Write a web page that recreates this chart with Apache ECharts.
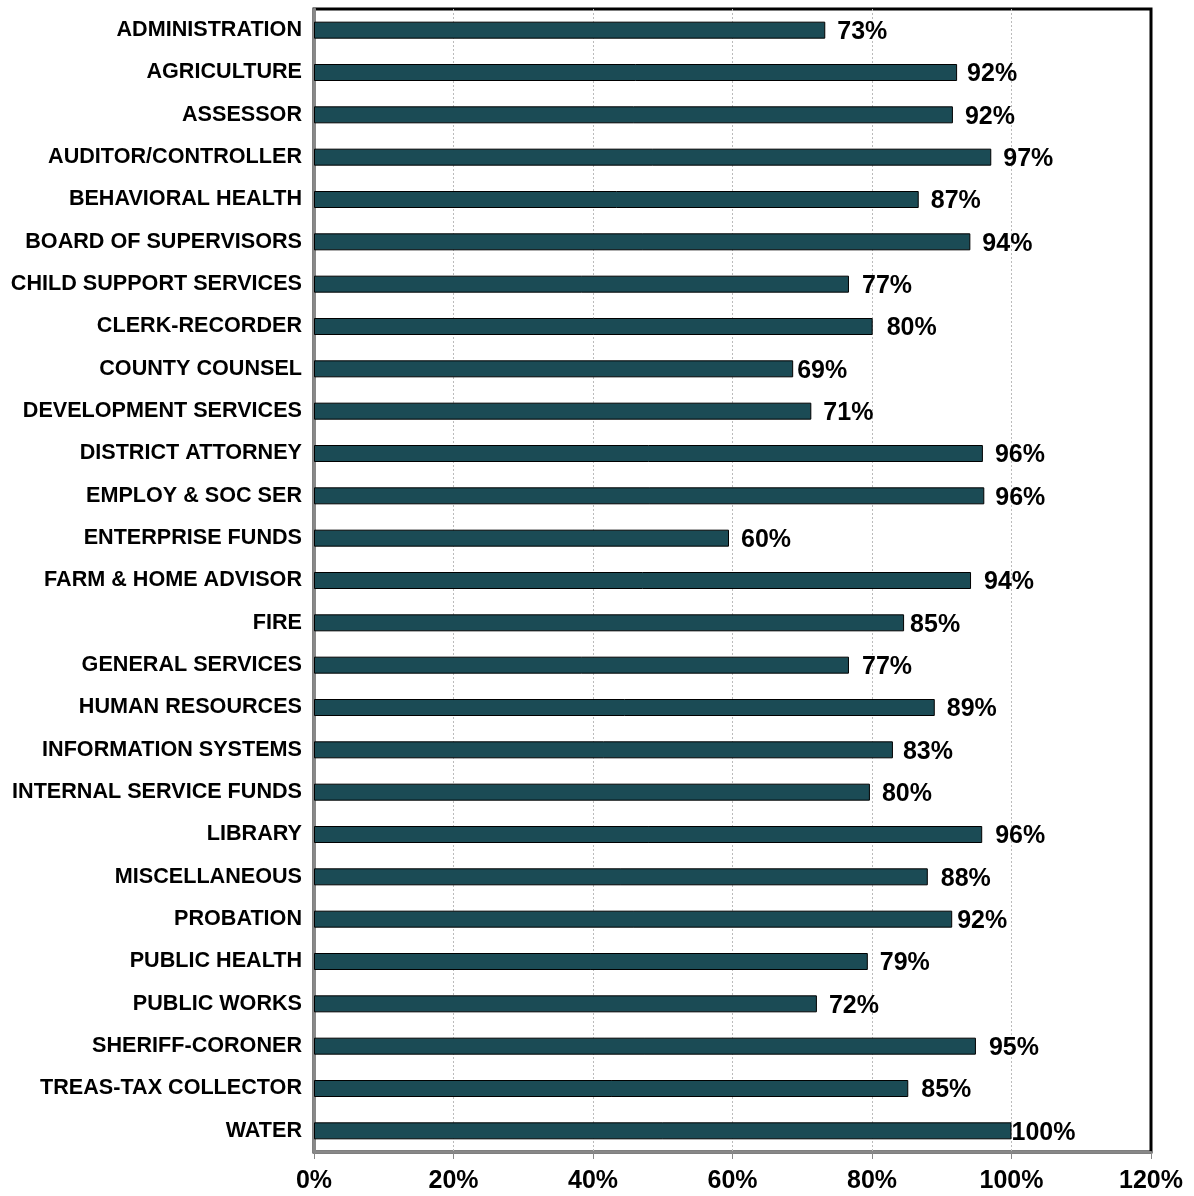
<!DOCTYPE html>
<html><head><meta charset="utf-8">
<script src="https://cdn.jsdelivr.net/npm/echarts@6/dist/echarts.min.js"></script>
<style>html,body{margin:0;padding:0;background:#fff}#c{width:1194px;height:1196px}</style>
</head><body><div id="c"></div>
<script>
const categories = ["ADMINISTRATION","AGRICULTURE","ASSESSOR","AUDITOR/CONTROLLER","BEHAVIORAL HEALTH","BOARD OF SUPERVISORS","CHILD SUPPORT SERVICES","CLERK-RECORDER","COUNTY COUNSEL","DEVELOPMENT SERVICES","DISTRICT ATTORNEY","EMPLOY & SOC SER","ENTERPRISE FUNDS","FARM & HOME ADVISOR","FIRE","GENERAL SERVICES","HUMAN RESOURCES","INFORMATION SYSTEMS","INTERNAL SERVICE FUNDS","LIBRARY","MISCELLANEOUS","PROBATION","PUBLIC HEALTH","PUBLIC WORKS","SHERIFF-CORONER","TREAS-TAX COLLECTOR","WATER"];
const values = [73.3,92.2,91.6,97.1,86.7,94.1,76.7,80.1,68.7,71.3,95.9,96.1,59.5,94.2,84.6,76.7,89.0,83.0,79.7,95.8,88.0,91.5,79.4,72.1,94.9,85.2,100];
const xTicks = [0,20,40,60,80,100,120];
// label gap (px) between bar end and its data label, as placed in the original
const labelGap = [12,10,12,12,12,12,13,14,4,12,12,11,12,13,6,13,12,10,12,13,13,5,12,12,13,13,0];
const chart = echarts.init(document.getElementById('c'));
const FONT = 'Liberation Sans, Arial, sans-serif';
chart.setOption({
  animation:false,
  grid:{left:314,right:43,top:9,bottom:44,show:true,borderColor:'#000',borderWidth:3,backgroundColor:'#fff'},
  xAxis:{type:'value',min:xTicks[0],max:xTicks[xTicks.length-1],interval:20,
    axisLine:{show:true,onZero:false,lineStyle:{color:'#888',width:2}},
    axisTick:{show:true,length:7,lineStyle:{color:'#888',width:1}},
    splitLine:{show:true,lineStyle:{color:['rgba(0,0,0,0)','#bbb','#bbb','#bbb','#bbb','#bbb','rgba(0,0,0,0)'],type:[2,2],width:1}},
    axisLabel:{formatter:v=>v+'%',fontFamily:FONT,fontWeight:'bold',fontSize:25,color:'#000',margin:17}
  },
  yAxis:{type:'category',data:categories,inverse:true,
    axisLine:{show:true,lineStyle:{color:'#888',width:3}},
    axisTick:{show:false},
    axisLabel:{fontFamily:FONT,fontWeight:'bold',fontSize:21.6,color:'#000',margin:12}
  },
  series:[{type:'bar',barWidth:17,
    data:values.map((v,i)=>({value:v,label:{distance:labelGap[i]}})),
    itemStyle:{color:'#1B4B55',borderColor:'#000',borderWidth:1},
    label:{show:true,position:'right',formatter:p=>Math.round(p.value)+'%',
      fontFamily:FONT,fontWeight:'bold',fontSize:25,color:'#000',offset:[0,2]}
  }]
});
</script></body></html>
